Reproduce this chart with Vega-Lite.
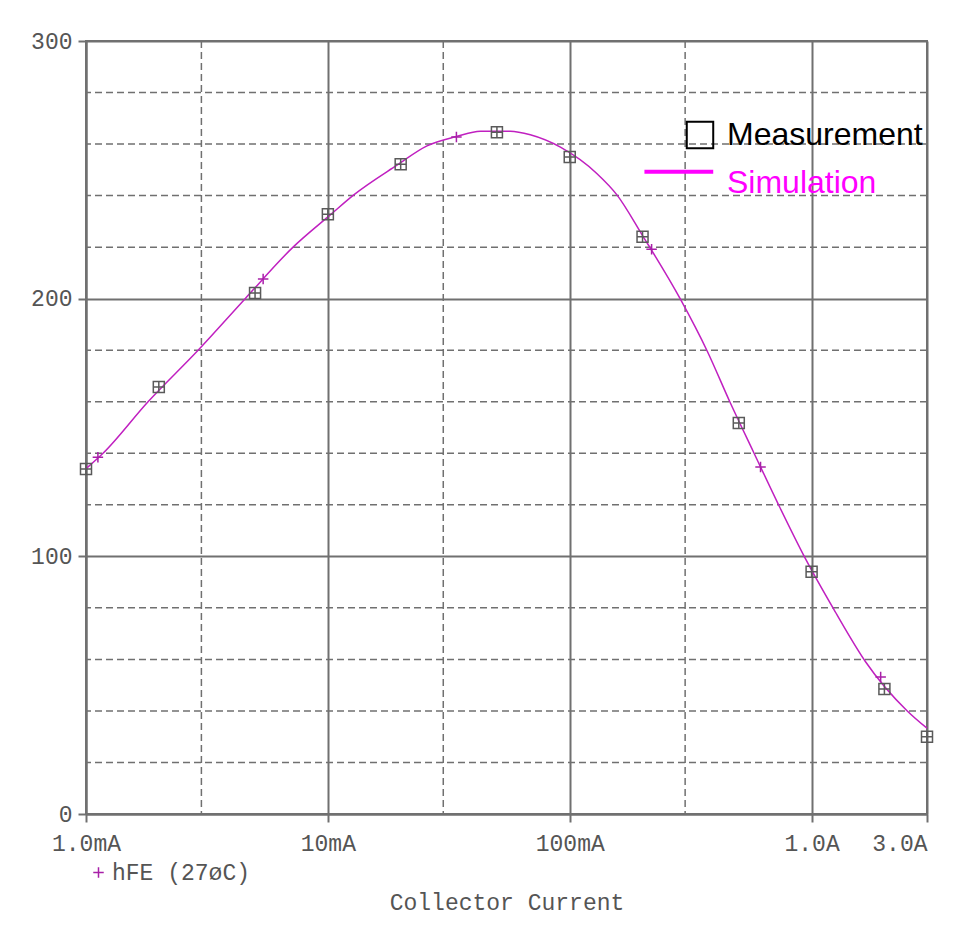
{
  "$schema": "https://vega.github.io/schema/vega-lite/v6.json",
  "autosize": {"type": "none"},
  "padding": {"left": 86, "top": 41, "right": 52, "bottom": 124},
  "width": 841,
  "height": 773,
  "background": "white",
  "config": {
    "view": {"stroke": "#707070", "strokeWidth": 2},
    "axis": {
      "labelFont": "Liberation Mono",
      "labelFontSize": 23,
      "labelColor": "#555555",
      "titleFont": "Liberation Mono",
      "titleFontSize": 23,
      "titleFontWeight": "normal",
      "titleColor": "#555555",
      "domainColor": "#707070",
      "domainWidth": 2,
      "tickColor": "#707070",
      "tickWidth": 2,
      "tickSize": 8,
      "gridColor": "#707070",
      "gridWidth": 2,
      "gridOpacity": 1
    }
  },
  "datasets": {
    "simulation": [
      {"ic": 0.001, "hfe": 134},
      {"ic": 0.001176, "hfe": 140},
      {"ic": 0.001805, "hfe": 160},
      {"ic": 0.002907, "hfe": 180},
      {"ic": 0.00455, "hfe": 200},
      {"ic": 0.00718, "hfe": 220},
      {"ic": 0.0102, "hfe": 232.4},
      {"ic": 0.01276, "hfe": 240.2},
      {"ic": 0.0193, "hfe": 251.8},
      {"ic": 0.0257, "hfe": 259.3},
      {"ic": 0.034, "hfe": 262.9},
      {"ic": 0.0427, "hfe": 265.0},
      {"ic": 0.0568, "hfe": 265.0},
      {"ic": 0.0687, "hfe": 263.6},
      {"ic": 0.0915, "hfe": 258.8},
      {"ic": 0.1297, "hfe": 248.5},
      {"ic": 0.157, "hfe": 240.2},
      {"ic": 0.2, "hfe": 224.5},
      {"ic": 0.2868, "hfe": 199.8},
      {"ic": 0.37, "hfe": 179.7},
      {"ic": 0.461, "hfe": 159.6},
      {"ic": 0.575, "hfe": 140.5},
      {"ic": 0.731, "hfe": 119.9},
      {"ic": 0.944, "hfe": 99.0},
      {"ic": 1.236, "hfe": 79.4},
      {"ic": 1.671, "hfe": 59.1},
      {"ic": 2.486, "hfe": 40},
      {"ic": 3.0, "hfe": 33.3}
    ],
    "measurement": [
      {"ic": 0.001, "hfe": 133.9},
      {"ic": 0.002, "hfe": 165.7},
      {"ic": 0.005, "hfe": 202.2},
      {"ic": 0.01, "hfe": 232.8},
      {"ic": 0.02, "hfe": 252.2},
      {"ic": 0.05, "hfe": 264.6},
      {"ic": 0.1, "hfe": 255},
      {"ic": 0.2, "hfe": 224},
      {"ic": 0.5, "hfe": 151.7},
      {"ic": 1.0, "hfe": 94},
      {"ic": 2.0, "hfe": 48.5},
      {"ic": 3.0, "hfe": 30}
    ],
    "plus": [
      {"ic": 0.00112, "hfe": 138.5},
      {"ic": 0.0054, "hfe": 207.6},
      {"ic": 0.034, "hfe": 262.7},
      {"ic": 0.218, "hfe": 219.2},
      {"ic": 0.615, "hfe": 134.7},
      {"ic": 1.93, "hfe": 53.2}
    ],
    "minorY": [
      {"v": 20}, {"v": 40}, {"v": 60}, {"v": 80},
      {"v": 120}, {"v": 140}, {"v": 160}, {"v": 180},
      {"v": 220}, {"v": 240}, {"v": 260}, {"v": 280}
    ],
    "minorX": [
      {"v": 0.003}, {"v": 0.03}, {"v": 0.3}
    ],
    "legendRows": [
      {"series": "Measurement"},
      {"series": "Simulation"}
    ]
  },
  "layer": [
    {
      "data": {"name": "minorY"},
      "mark": {"type": "rule", "color": "#707070", "strokeWidth": 1.5, "strokeDash": [7, 4]},
      "encoding": {
        "y": {"field": "v", "type": "quantitative", "scale": {"domain": [0, 300], "nice": false}}
      }
    },
    {
      "data": {"name": "minorX"},
      "mark": {"type": "rule", "color": "#707070", "strokeWidth": 1.5, "strokeDash": [7, 4]},
      "encoding": {
        "x": {"field": "v", "type": "quantitative", "scale": {"type": "log", "domain": [0.001, 3], "nice": false}}
      }
    },
    {
      "data": {"name": "simulation"},
      "mark": {"type": "line", "color": "#c020c0", "strokeWidth": 1.5, "interpolate": "monotone"},
      "encoding": {
        "x": {
          "field": "ic", "type": "quantitative",
          "scale": {"type": "log", "domain": [0.001, 3], "nice": false},
          "axis": {
            "values": [0.001, 0.01, 0.1, 1, 3],
            "labelExpr": "datum.value < 0.0015 ? '1.0mA' : datum.value < 0.015 ? '10mA' : datum.value < 0.15 ? '100mA' : datum.value < 1.5 ? '1.0A' : '3.0A'",
            "labelAlign": {"expr": "datum.value > 2 ? 'right' : 'center'"},
            "labelPadding": 10,
            "grid": true,
            "title": "Collector Current",
            "titlePadding": 36
          }
        },
        "y": {
          "field": "hfe", "type": "quantitative",
          "scale": {"domain": [0, 300], "nice": false},
          "axis": {
            "values": [0, 100, 200, 300],
            "grid": true,
            "labelPadding": 6,
            "title": null
          }
        }
      }
    },
    {
      "data": {"name": "measurement"},
      "mark": {"type": "point", "shape": "M-1,-1H1V1H-1ZM0,-1V1M-1,0H1", "filled": false, "color": "#5a5a5a", "strokeWidth": 1.5, "size": 121, "opacity": 1},
      "encoding": {
        "x": {"field": "ic", "type": "quantitative"},
        "y": {"field": "hfe", "type": "quantitative"}
      }
    },
    {
      "data": {"name": "plus"},
      "mark": {"type": "point", "shape": "M-1,0H1M0,-1V1", "filled": false, "strokeWidth": 1.5, "size": 110, "opacity": 1},
      "encoding": {
        "x": {"field": "ic", "type": "quantitative"},
        "y": {"field": "hfe", "type": "quantitative"},
        "color": {
          "datum": "hFE (27øC)",
          "type": "nominal",
          "scale": {"range": ["#a820a8"]},
          "legend": {
            "orient": "none",
            "legendX": 1,
            "legendY": 820,
            "padding": 0,
            "title": null,
            "symbolType": "M-1,0H1M0,-1V1",
            "symbolSize": 110,
            "symbolStrokeWidth": 1.5,
            "symbolOpacity": 1,
            "labelFont": "Liberation Mono",
            "labelFontSize": 23,
            "labelColor": "#555555",
            "labelOffset": 2
          }
        }
      }
    },
    {
      "data": {"name": "legendRows"},
      "transform": [{"filter": "datum.series == 'none'"}],
      "mark": {"type": "point", "filled": false},
      "encoding": {
        "stroke": {
          "field": "series", "type": "nominal",
          "scale": {"domain": ["Measurement", "Simulation"], "range": ["#000000", "#ff00ff"]},
          "legend": {
            "orient": "none",
            "legendX": 598,
            "legendY": 78,
            "padding": 0,
            "title": null,
            "symbolSize": 700,
            "symbolOpacity": 1,
            "symbolFillColor": "transparent",
            "symbolStrokeWidth": {"expr": "datum.value == 'Simulation' ? 4 : 2"},
            "labelFont": "Liberation Sans",
            "labelFontSize": 32,
            "labelLimit": 400,
            "labelColor": {"expr": "datum.value == 'Simulation' ? '#ff00ff' : '#000000'"},
            "labelOffset": 11,
            "rowPadding": 10
          }
        },
        "shape": {
          "field": "series", "type": "nominal",
          "scale": {"domain": ["Measurement", "Simulation"], "range": ["square", "M-4.2,-0.85H1"]},
          "legend": {
            "orient": "none",
            "legendX": 598,
            "legendY": 78,
            "padding": 0,
            "title": null,
            "symbolSize": 700,
            "symbolOpacity": 1,
            "symbolFillColor": "transparent",
            "symbolStrokeWidth": {"expr": "datum.value == 'Simulation' ? 4 : 2"},
            "labelFont": "Liberation Sans",
            "labelFontSize": 32,
            "labelLimit": 400,
            "labelColor": {"expr": "datum.value == 'Simulation' ? '#ff00ff' : '#000000'"},
            "labelOffset": 11,
            "rowPadding": 10
          }
        }
      }
    }
  ]
}
